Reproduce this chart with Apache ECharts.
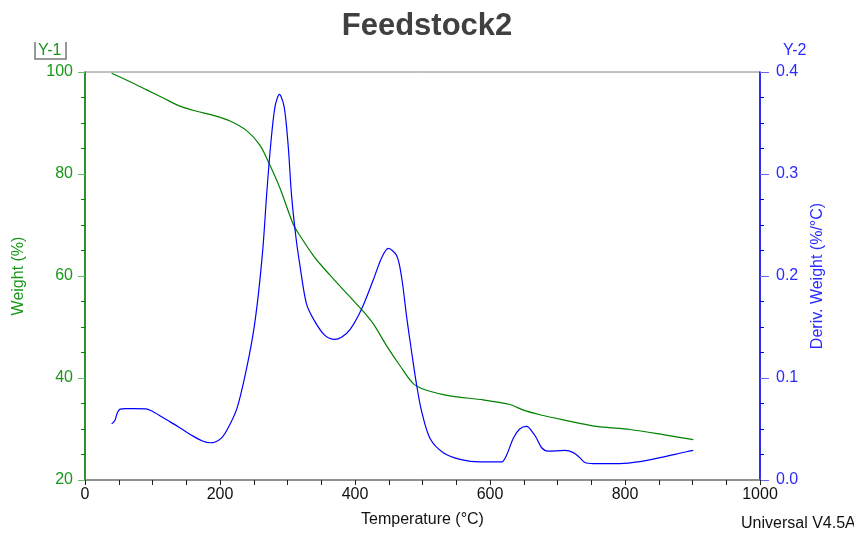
<!DOCTYPE html>
<html>
<head>
<meta charset="utf-8">
<script src="https://cdn.jsdelivr.net/npm/echarts@6/dist/echarts.min.js"></script>
<style>html,body{margin:0;padding:0;background:#fff;}#chart{width:854px;height:533px;}</style>
</head>
<body>
<div id="chart"></div>
<script>
const title = 'Feedstock2';
const xTicks = [0, 200, 400, 600, 800, 1000];
const weightTemp = [39.5,66.7,91.4,116,140.7,165.4,190,214.8,239.5,259.3,274,288.9,308.6,318.5,338.3,348,362,377.8,392.6,409.9,427.2,446.9,466.7,486.4,506,540.7,590,629.6,649.4,674,708.6,758,807.4,856.7,901.2];
const weightVals = [99.75,98.1,96.5,94.9,93.3,92.3,91.5,90.4,88.5,85.6,81.7,77.2,70.1,67.9,64.0,62.4,60.3,58.0,55.9,53.4,50.6,46.3,42.4,38.9,37.6,36.5,35.7,34.8,33.7,32.8,31.8,30.5,29.9,28.9,27.9];
const derivTemp = [39.5,44,48,52,60,72,90,101,121,141,160,175,185,192,202,212,225,237,249,257,264,269,275,281.5,288,295,301,306,312.5,318.5,328,340,355,370,380,392.6,410,427,439.5,449.4,461.7,469,476.5,484,491.4,498.8,511,530.8,555.6,585,617,625,634.5,644,654.3,664,669,676.5,686,711,723.5,733,740.7,753,792.6,822,852,891,901];
const derivVals = [0.055,0.058,0.066,0.0695,0.070,0.070,0.0698,0.067,0.059,0.051,0.043,0.038,0.0365,0.037,0.041,0.051,0.070,0.102,0.143,0.183,0.231,0.279,0.328,0.366,0.378,0.366,0.328,0.279,0.238,0.21,0.173,0.156,0.142,0.1378,0.140,0.1475,0.168,0.196,0.218,0.227,0.220,0.199,0.160,0.125,0.0927,0.067,0.041,0.0268,0.0203,0.0177,0.0177,0.025,0.041,0.050,0.0525,0.046,0.041,0.0316,0.0283,0.029,0.0268,0.0219,0.0171,0.0161,0.0161,0.018,0.0219,0.0277,0.029];

const GREEN = '#008000', GREEN_T = '#1a961a', BLUE = '#0000ff', BLUE_T = '#2a2aff';
const FONT = 'Liberation Sans, Arial, sans-serif';
const chart = echarts.init(document.getElementById('chart'));
chart.setOption({
  animation: false,
  backgroundColor: '#fff',
  title: { text: title, left: 'center', top: 6, textStyle: { fontFamily: FONT, fontSize: 31, fontWeight: 'bold', color: '#404040' } },
  grid: { left: 85, right: 94, top: 72, bottom: 47, show: true, borderColor: '#808080', borderWidth: 1 },
  xAxis: {
    type: 'value', min: 0, max: 1000, interval: 200,
    name: 'Temperature (°C)', nameLocation: 'middle', nameGap: 32,
    nameTextStyle: { fontFamily: FONT, fontSize: 16, color: '#111' },
    axisLine: { lineStyle: { color: '#808080', width: 1.5 } },
    axisTick: { length: 5, lineStyle: { color: '#222' } },
    minorTick: { show: true, splitNumber: 4, length: 5, lineStyle: { color: '#222' } },
    axisLabel: { fontFamily: FONT, fontSize: 16, color: '#111', margin: 7,
      formatter: v => xTicks.includes(v) ? String(v) : '' },
    splitLine: { show: false }
  },
  yAxis: [{
    type: 'value', min: 20, max: 100, interval: 20, position: 'left',
    name: 'Weight (%)', nameLocation: 'middle', nameGap: 58,
    nameTextStyle: { fontFamily: FONT, fontSize: 16, color: GREEN_T },
    axisLine: { show: true, lineStyle: { color: GREEN, width: 1.5 } },
    axisTick: { show: true, length: 7, lineStyle: { color: '#66bb66' } },
    minorTick: { show: true, splitNumber: 4, length: 4, lineStyle: { color: GREEN } },
    axisLabel: { fontFamily: FONT, fontSize: 16, color: GREEN_T, margin: 12 },
    splitLine: { show: false }
  }, {
    type: 'value', min: 0, max: 0.4, interval: 0.1, position: 'right',
    name: 'Deriv. Weight (%/°C)', nameLocation: 'middle', nameGap: 44,
    nameTextStyle: { fontFamily: FONT, fontSize: 16, color: BLUE_T },
    axisLine: { show: true, lineStyle: { color: BLUE, width: 1.5 } },
    axisTick: { show: true, length: 9, lineStyle: { color: '#6666ff' } },
    minorTick: { show: true, splitNumber: 4, length: 4, lineStyle: { color: BLUE } },
    axisLabel: { fontFamily: FONT, fontSize: 16, color: BLUE_T, margin: 16, formatter: v => v.toFixed(1) },
    splitLine: { show: false }
  }],
  graphic: [
    { type: 'text', left: 38, top: 43, style: { text: 'Y-1', fontFamily: FONT, fontSize: 16, fill: GREEN_T } },
    { type: 'polyline', shape: { points: [[35,42],[35,59],[66,59],[66,42]] }, style: { stroke: '#777', lineWidth: 1.5, fill: null } },
    { type: 'text', left: 783, top: 43, style: { text: 'Y-2', fontFamily: FONT, fontSize: 16, fill: BLUE_T } },
    { type: 'text', left: 741, top: 516, style: { text: 'Universal V4.5A', fontFamily: FONT, fontSize: 16, fill: '#111' } }
  ],
  series: [{
    type: 'line', yAxisIndex: 0, showSymbol: false, smooth: 0.3,
    lineStyle: { color: GREEN, width: 1.2 },
    data: weightTemp.map((t, i) => [t, weightVals[i]])
  }, {
    type: 'line', yAxisIndex: 1, showSymbol: false, smooth: 0.3,
    lineStyle: { color: BLUE, width: 1.2 },
    data: derivTemp.map((t, i) => [t, derivVals[i]])
  }]
});
</script>
</body>
</html>
